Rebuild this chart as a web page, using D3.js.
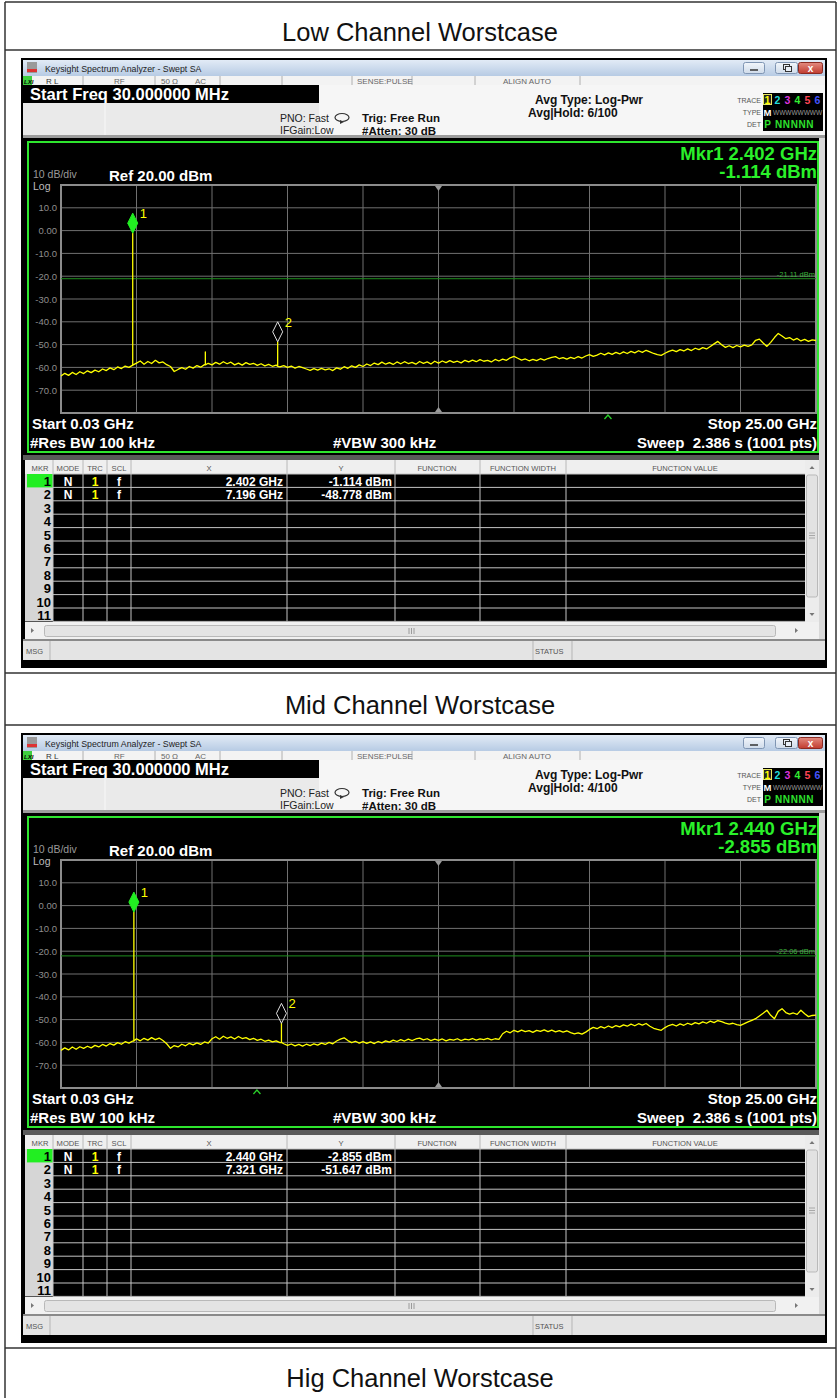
<!DOCTYPE html>
<html><head><meta charset="utf-8">
<script src="https://cdn.jsdelivr.net/npm/d3@7"></script>
<style>
body{margin:0;background:#fff;}
svg{display:block;}
text{font-family:"Liberation Sans",Arial,sans-serif;white-space:pre;}
</style>
</head><body>
<svg id="c" width="838" height="1398"></svg>
<script>
// ---------------- DATA ----------------
const panelTitles = ["Low Channel Worstcase", "Mid Channel Worstcase", "Hig Channel Worstcase"];
const startFreqGHz = 0.03, stopFreqGHz = 25.0;
const refLevel = 20, bottomLevel = -80;
const yTickValues = [10, 0, -10, -20, -30, -40, -50, -60, -70];
const yTickLabels = ["10.0", "0.00", "-10.0", "-20.0", "-30.0", "-40.0", "-50.0", "-60.0", "-70.0"];
const avgHoldLabels = ["6/100", "4/100"];
const mkr1FreqLabels = ["2.402 GHz", "2.440 GHz"];
const mkr1LevelLabels = ["-1.114 dBm", "-2.855 dBm"];
const thresholdLevels = [-21.11, -22.06];
const thresholdLabels = ["-21.11 dBm", "-22.06 dBm"];
const caretFreqs = [18.12, 6.51];

const lowTrace = [
 -63.8,-62.6,-63.5,-62.2,-63.1,-61.9,-62.7,-61.5,-62.3,-61.2,
 -61.9,-60.7,-61.4,-60.2,-61.0,-59.8,-60.5,-59.4,-60.0,-59.0,
 -58.1,-57.2,-58.6,-57.4,-58.3,-56.9,-58.0,-57.6,-58.8,-59.6,
 -61.8,-60.9,-60.1,-60.8,-59.6,-60.3,-59.2,-59.9,-58.8,-58.2,
 -58.9,-57.8,-58.6,-57.5,-58.4,-57.7,-58.9,-58.1,-59.0,-57.9,
 -58.7,-58.2,-59.1,-58.4,-59.3,-58.7,-59.5,-59.0,-59.8,-59.2,
 -60.0,-59.4,-60.3,-59.6,-60.1,-60.7,-61.3,-60.5,-61.2,-60.4,
 -61.1,-60.6,-61.4,-60.2,-60.8,-59.7,-60.4,-59.3,-60.0,-58.9,
 -59.6,-58.5,-59.2,-58.1,-58.8,-57.7,-58.6,-57.9,-58.7,-57.6,
 -58.4,-57.5,-58.3,-57.8,-58.6,-57.4,-58.2,-57.6,-58.5,-57.3,
 -58.1,-57.2,-57.9,-57.0,-57.8,-57.3,-58.0,-56.9,-57.6,-56.8,
 -57.5,-56.6,-57.3,-56.9,-57.6,-56.5,-57.2,-56.4,-56.9,-55.8,
 -55.2,-56.0,-56.8,-56.3,-57.1,-56.5,-57.0,-56.2,-56.8,-56.1,
 -55.6,-55.3,-56.2,-55.7,-56.4,-55.6,-56.1,-55.3,-55.9,-55.0,
 -54.4,-55.2,-54.6,-53.8,-54.5,-53.6,-54.3,-53.4,-54.1,-53.2,
 -53.9,-53.0,-53.6,-52.7,-53.4,-52.5,-53.2,-53.9,-54.4,-54.7,
 -53.8,-53.0,-52.4,-53.1,-52.2,-52.8,-51.9,-52.6,-51.6,-52.2,
 -51.3,-51.9,-50.8,-49.7,-48.6,-50.1,-51.2,-50.5,-51.3,-50.4,
 -51.0,-50.2,-50.8,-50.1,-48.1,-47.6,-49.3,-50.8,-49.0,-46.9,
 -45.1,-46.2,-47.4,-46.9,-48.0,-47.3,-48.4,-47.7,-48.6,-47.9,-48.2
];
const midTrace = [
 -63.5,-62.4,-63.3,-62.0,-63.0,-61.9,-62.6,-61.7,-62.4,-61.3,
 -62.0,-60.9,-61.6,-60.5,-61.2,-60.1,-60.8,-59.7,-60.3,-59.4,
 -58.4,-59.3,-58.2,-59.0,-57.9,-58.8,-58.1,-59.2,-60.6,-62.6,
 -61.4,-62.0,-60.8,-61.5,-60.4,-61.1,-60.2,-60.9,-59.8,-60.3,
 -58.4,-57.5,-58.6,-57.3,-58.2,-57.6,-58.5,-57.4,-58.3,-57.9,
 -58.8,-58.2,-59.1,-58.6,-59.5,-59.0,-59.8,-59.3,-60.1,-60.6,
 -61.3,-60.7,-61.5,-60.9,-61.6,-60.8,-61.4,-60.6,-61.2,-60.3,
 -60.9,-60.0,-60.6,-59.4,-58.6,-58.0,-59.2,-60.1,-59.5,-60.3,
 -59.7,-60.4,-59.8,-60.5,-59.6,-60.2,-59.3,-59.9,-59.0,-59.6,
 -58.8,-59.4,-58.6,-59.2,-58.5,-58.1,-58.9,-58.4,-59.2,-58.6,
 -59.1,-58.5,-59.3,-58.7,-59.0,-58.4,-59.2,-58.6,-58.9,-58.3,
 -59.0,-58.5,-58.8,-58.2,-58.9,-58.4,-58.7,-56.2,-55.1,-55.8,
 -54.7,-55.4,-54.6,-55.3,-54.8,-55.6,-54.7,-55.2,-54.5,-55.3,
 -54.6,-55.4,-54.8,-55.5,-54.9,-55.7,-56.3,-55.8,-56.4,-55.5,
 -54.3,-53.4,-54.0,-53.1,-53.7,-52.8,-53.5,-52.6,-53.2,-52.3,
 -52.9,-52.0,-52.7,-51.8,-52.4,-51.7,-52.9,-53.8,-54.3,-54.7,
 -53.5,-52.6,-52.1,-52.8,-51.9,-52.5,-51.6,-52.2,-51.3,-51.9,
 -51.0,-51.6,-50.7,-51.3,-50.4,-50.9,-51.5,-52.0,-51.6,-52.2,
 -52.5,-51.8,-51.0,-50.3,-49.6,-48.4,-47.2,-45.9,-48.1,-49.6,
 -46.4,-45.2,-46.9,-47.6,-47.1,-47.7,-45.9,-47.4,-48.7,-48.2,-48.0
];
const lowSpikeFreqs = [2.402, 4.804, 7.196];
const lowSpikeLevels = [-1.114, -53.2, -48.778];
const lowSpikeBases = [-59.0, -58.9, -59.5];
const midSpikeFreqs = [2.440, 7.321];
const midSpikeLevels = [-2.855, -51.647];
const midSpikeBases = [-59.4, -60.0];

const lowMarkerX = ["2.402 GHz", "7.196 GHz"];
const lowMarkerY = ["-1.114 dBm", "-48.778 dBm"];
const midMarkerX = ["2.440 GHz", "7.321 GHz"];
const midMarkerY = ["-2.855 dBm", "-51.647 dBm"];
const tableHeaders = ["MKR", "MODE", "TRC", "SCL", "X", "Y", "FUNCTION", "FUNCTION WIDTH", "FUNCTION VALUE"];
const traceDigits = ["1", "2", "3", "4", "5", "6"];
const traceColors = ["#ffff00", "#22dddd", "#dd33dd", "#33ee33", "#ff4455", "#4455ff"];

// ---------------- DRAW ----------------
const svg = d3.select("#c");
const defs = svg.append("defs");
function grad(id, c1, c2) {
  const lg = defs.append("linearGradient").attr("id", id).attr("x1", 0).attr("y1", 0).attr("x2", 0).attr("y2", 1);
  lg.append("stop").attr("offset", "0").attr("stop-color", c1);
  lg.append("stop").attr("offset", "1").attr("stop-color", c2);
}
grad("tb", "#e2ebf6", "#b7cbe4");
grad("cb", "#e38b80", "#c13b2e");
grad("wb", "#f2f6fb", "#cfdbea");

// document table frame
const rowLines = [2, 50, 673, 725, 1348];
const titleBaselines = [41, 714, 1387];
rowLines.forEach(yy => svg.append("line").attr("x1", 5).attr("x2", 836).attr("y1", yy).attr("y2", yy)
  .attr("stroke", "#333").attr("stroke-width", 1.5));
[5, 836].forEach(xx => svg.append("line").attr("x1", xx).attr("x2", xx).attr("y1", 2).attr("y2", 1398)
  .attr("stroke", "#333").attr("stroke-width", 1.5));
panelTitles.forEach((t, i) => svg.append("text").attr("x", 420).attr("y", titleBaselines[i])
  .attr("text-anchor", "middle").attr("font-size", 25.5).attr("fill", "#111").text(t));

function T(g, x, y, s, size, fill, opts = {}) {
  const t = g.append("text").attr("x", x).attr("y", y).attr("font-size", size).attr("fill", fill).text(s);
  if (opts.bold) t.attr("font-weight", "bold");
  if (opts.anchor) t.attr("text-anchor", opts.anchor);
  if (opts.ls) t.attr("letter-spacing", opts.ls);
  if (opts.italic) t.attr("font-style", "italic");
  return t;
}
function R(g, x, y, w, h, fill, stroke, sw) {
  const r = g.append("rect").attr("x", x).attr("y", y).attr("width", w).attr("height", h).attr("fill", fill);
  if (stroke) r.attr("stroke", stroke).attr("stroke-width", sw || 1);
  return r;
}
function L(g, x1, y1, x2, y2, c, w) {
  return g.append("line").attr("x1", x1).attr("y1", y1).attr("x2", x2).attr("y2", y2).attr("stroke", c).attr("stroke-width", w || 1);
}

function shot(off, k, trace, sF, sL, sB, mX, mY) {
  const g = svg.append("g").attr("transform", `translate(0,${off})`);
  R(g, 21, 58, 806, 610, "#000");
  // title bar
  R(g, 23, 60, 802, 16, "url(#tb)");
  R(g, 27, 62, 10, 11, "#9a9a9a");
  R(g, 27, 69, 10, 3, "#d33");
  T(g, 45, 71.5, "Keysight Spectrum Analyzer - Swept SA", 8.8, "#1d1d1d");
  R(g, 743.5, 62.5, 21, 11, "url(#wb)", "#7f95b3", 1).attr("rx", 2);
  L(g, 750, 70, 758, 70, "#333", 1.5);
  R(g, 775.5, 62.5, 22, 11, "url(#wb)", "#7f95b3", 1).attr("rx", 2);
  R(g, 783.5, 64.5, 6, 5, "none", "#333", 1); R(g, 785.5, 66.5, 6, 5, "#e8eef6", "#333", 1);
  R(g, 798.5, 62.5, 24, 11, "url(#cb)", "#8a2a22", 1).attr("rx", 2);
  T(g, 810.5, 71.5, "x", 10, "#fff", { bold: true, anchor: "middle" });
  // status row
  R(g, 23, 76, 802, 9, "#f3f3f3");
  R(g, 23, 76, 9, 9, "#3fcf3f");
  T(g, 24, 83.5, "LXI", 6, "#000", { bold: true, italic: true });
  [83, 155, 220, 282, 352, 412, 475, 580].forEach(xx => L(g, xx, 76, xx, 85, "#b0b0b0"));
  T(g, 46, 83.5, "R L", 8, "#333");
  T(g, 114, 83.5, "RF", 8, "#666");
  T(g, 161, 83.5, "50 Ω", 8, "#666");
  T(g, 195, 83.5, "AC", 8, "#666");
  T(g, 357, 83.5, "SENSE:PULSE", 8, "#666");
  T(g, 503, 83.5, "ALIGN AUTO", 8, "#666");
  // header
  R(g, 23, 85, 802, 52, "#f6f6f6");
  R(g, 23, 103, 296, 34, "#eaeaea");
  L(g, 105, 103, 105, 137, "#f8f8f8", 1);
  R(g, 23, 85, 296, 18, "#000");
  T(g, 30, 100, "Start Freq 30.000000 MHz", 16.5, "#fff", { bold: true });
  R(g, 23, 135, 802, 3, "#9c9c9c");
  T(g, 280, 121.5, "PNO: Fast", 10.5, "#222");
  T(g, 280, 133.5, "IFGain:Low", 10.5, "#222");
  g.append("ellipse").attr("cx", 342).attr("cy", 117.5).attr("rx", 7).attr("ry", 4).attr("fill", "none").attr("stroke", "#333").attr("stroke-width", 1.2);
  g.append("path").attr("d", "M340,120 L344,122 L340,124 Z").attr("fill", "#333");
  T(g, 362, 122, "Trig: Free Run", 11.5, "#111", { bold: true });
  T(g, 362, 134.5, "#Atten: 30 dB", 11.5, "#111", { bold: true });
  T(g, 535, 104, "Avg Type: Log-Pwr", 12, "#111", { bold: true });
  T(g, 528, 117, "Avg|Hold: " + avgHoldLabels[k], 12, "#111", { bold: true });
  // trace box
  T(g, 761, 103, "TRACE", 7, "#555", { anchor: "end" });
  T(g, 761, 115, "TYPE", 7, "#555", { anchor: "end" });
  T(g, 761, 127, "DET", 7, "#555", { anchor: "end" });
  R(g, 763, 93, 60, 38, "#000");
  R(g, 763.5, 94.5, 8, 10, "#222", "#e8e860", 1);
  traceDigits.forEach((d, i) => T(g, 767.5 + i * 10, 103.5, d, 10.5, traceColors[i], { bold: true, anchor: "middle" }));
  T(g, 767.5, 115.5, "M", 9.5, "#fff", { bold: true, anchor: "middle" });
  T(g, 773, 115, "WWWWWWWW", 6.5, "#9a9a9a");
  T(g, 767.5, 128, "P", 10, "#2ee02e", { bold: true, anchor: "middle" });
  T(g, 775, 128, "NNNNN", 10, "#2ee02e", { bold: true, ls: 0.6 });

  // graph panel
  R(g, 819, 138, 6, 502, "#d9d9d9");
  R(g, 28, 142, 790, 310, "#000", "#2ee62e", 2);
  const x = d3.scaleLinear().domain([startFreqGHz, stopFreqGHz]).range([61, 816]);
  const y = d3.scaleLinear().domain([refLevel, bottomLevel]).range([185, 413]);
  const xDivs = d3.range(1, 10).map(i => startFreqGHz + i * (stopFreqGHz - startFreqGHz) / 10);
  xDivs.forEach(f => L(g, x(f), 185, x(f), 413, "#707070", 1));
  yTickValues.forEach(v => L(g, 61, y(v), 816, y(v), "#707070", 1));
  R(g, 61, 185, 755, 228, "none", "#8c8c8c", 2);
  yTickValues.forEach((v, i) => T(g, 57, y(v) + 3.5, yTickLabels[i], 9.5, "#8e8e8e", { anchor: "end" }));
  T(g, 33, 178, "10 dB/div", 10.5, "#9a9a9a");
  T(g, 33, 190, "Log", 10.5, "#bdbdbd");
  T(g, 109, 180.5, "Ref 20.00 dBm", 15, "#fff", { bold: true });
  T(g, 817, 159.5, "Mkr1 " + mkr1FreqLabels[k], 18.5, "#2af02a", { bold: true, anchor: "end" });
  T(g, 817, 178, mkr1LevelLabels[k], 18.5, "#2af02a", { bold: true, anchor: "end" });
  // threshold line
  L(g, 61, y(thresholdLevels[k]), 816, y(thresholdLevels[k]), "#1f8f1f", 1);
  T(g, 815, y(thresholdLevels[k]) - 2, thresholdLabels[k], 7.5, "#3bb23b", { anchor: "end" });
  // display markers
  const cx = x((startFreqGHz + stopFreqGHz) / 2);
  g.append("path").attr("d", `M${cx - 3.5},186 L${cx + 3.5},186 L${cx},191 Z`).attr("fill", "#9a9a9a");
  g.append("path").attr("d", `M${cx - 3.5},412 L${cx + 3.5},412 L${cx},407 Z`).attr("fill", "#9a9a9a");
  const cr = x(caretFreqs[k]);
  g.append("path").attr("d", `M${cr - 3.5},419 L${cr},415 L${cr + 3.5},419`).attr("fill", "none").attr("stroke", "#2ad02a").attr("stroke-width", 1.3);
  // trace
  const step = (stopFreqGHz - startFreqGHz) / (trace.length - 1);
  let pts = trace.map((v, i) => [startFreqGHz + i * step, v]);
  sF.forEach((f, i) => { pts.push([f, sB[i]]); pts.push([f, sL[i]]); pts.push([f, sB[i]]); });
  pts.sort((a, b) => a[0] - b[0]);
  const line = d3.line().x(d => x(d[0])).y(d => y(d[1]));
  g.append("path").attr("d", line(pts)).attr("fill", "none").attr("stroke", "#ffff00").attr("stroke-width", 1.3).attr("stroke-linejoin", "round");
  // markers
  const mIdx = [0, sF.length - 1];
  mIdx.forEach((si, j) => {
    const px = x(sF[si]), py = y(sL[si]);
    g.append("path").attr("d", `M${px},${py} L${px + 5},${py - 10} L${px},${py - 20} L${px - 5},${py - 10} Z`)
      .attr("fill", j === 0 ? "#22ee22" : "none").attr("stroke", j === 0 ? "#22ee22" : "#e0e0e0").attr("stroke-width", 1);
    T(g, px + 7, py - 15, String(j + 1), 13, "#ffff00");
  });
  // bottom annotations
  T(g, 32, 429, "Start 0.03 GHz", 15, "#fff", { bold: true });
  T(g, 817, 429, "Stop 25.00 GHz", 15, "#fff", { bold: true, anchor: "end" });
  T(g, 30, 448, "#Res BW 100 kHz", 15, "#fff", { bold: true });
  T(g, 333, 448, "#VBW 300 kHz", 15, "#fff", { bold: true });
  T(g, 817, 448, "Sweep  2.386 s (1001 pts)", 15, "#fff", { bold: true, anchor: "end" });

  // marker table
  R(g, 23, 455, 796, 5, "#5a5a5a");
  R(g, 25, 460, 780, 14, "#efefef");
  const colSep = [53, 83, 107, 131, 287, 395, 480, 566];
  const headCx = [40, 68, 95, 119, 209, 341, 437, 523, 685];
  colSep.forEach(xx => L(g, xx, 460, xx, 474, "#b8b8b8"));
  tableHeaders.forEach((h, i) => T(g, headCx[i], 470.5, h, 7.6, "#555", { anchor: "middle" }));
  const rowTop = 474, rowH = 13.4, nRows = 11;
  R(g, 25, rowTop, 780, rowH * nRows, "#000");
  R(g, 25, rowTop, 28, rowH * nRows, "#d6d6d6");
  R(g, 27, rowTop, 26, rowH, "#22ee22");
  d3.range(nRows + 1).forEach(r => L(g, 53, rowTop + r * rowH, 805, rowTop + r * rowH, "#c4c4c4", 1));
  colSep.forEach(xx => L(g, xx, rowTop, xx, rowTop + rowH * nRows, "#c4c4c4"));
  d3.range(nRows).forEach(r => T(g, 51, rowTop + r * rowH + 12, String(r + 1), 13, "#000", { bold: true, anchor: "end" }));
  mX.forEach((xv, r) => {
    const by = rowTop + r * rowH + 11.5;
    T(g, 68, by, "N", 12, "#fff", { bold: true, anchor: "middle" });
    T(g, 95, by, "1", 12, "#ffff00", { bold: true, anchor: "middle" });
    T(g, 119, by, "f", 12, "#fff", { bold: true, anchor: "middle" });
    T(g, 283, by, xv, 12, "#fff", { bold: true, anchor: "end" });
    T(g, 392, by, mY[r], 12, "#fff", { bold: true, anchor: "end" });
  });
  // vertical scrollbar
  R(g, 805, 460, 14, 163, "#ececec");
  g.append("path").attr("d", "M809.5,469 L812,466 L814.5,469 Z").attr("fill", "#777");
  R(g, 806.5, 475, 11, 122, "#e2e2e2", "#b9b9b9", 1).attr("rx", 2);
  [533, 535.5, 538].forEach(yy => L(g, 809, yy, 815, yy, "#999", 0.8));
  g.append("path").attr("d", "M809.5,613 L812,616 L814.5,613 Z").attr("fill", "#777");
  // horizontal scrollbar
  R(g, 25, 622, 794, 17, "#f1f1f1");
  g.append("path").attr("d", "M34,630.5 L31,628 L31,633 Z").attr("fill", "#777");
  R(g, 44.5, 625.5, 731, 11, "#e4e4e4", "#b9b9b9", 1).attr("rx", 2);
  [409, 411.5, 414].forEach(xx => L(g, xx, 628, xx, 634, "#888", 0.8));
  g.append("path").attr("d", "M798,630.5 L795,628 L795,633 Z").attr("fill", "#777");
  // MSG bar
  R(g, 23, 639, 802, 2, "#8a8a8a");
  R(g, 23, 641, 802, 19, "#e4e4e4");
  [50, 533, 572].forEach(xx => L(g, xx, 641, xx, 660, "#b5b5b5"));
  T(g, 26, 654, "MSG", 7.5, "#555");
  T(g, 535, 654, "STATUS", 7.5, "#555");
}

shot(0, 0, lowTrace, lowSpikeFreqs, lowSpikeLevels, lowSpikeBases, lowMarkerX, lowMarkerY);
shot(675, 1, midTrace, midSpikeFreqs, midSpikeLevels, midSpikeBases, midMarkerX, midMarkerY);
</script>
</body></html>
